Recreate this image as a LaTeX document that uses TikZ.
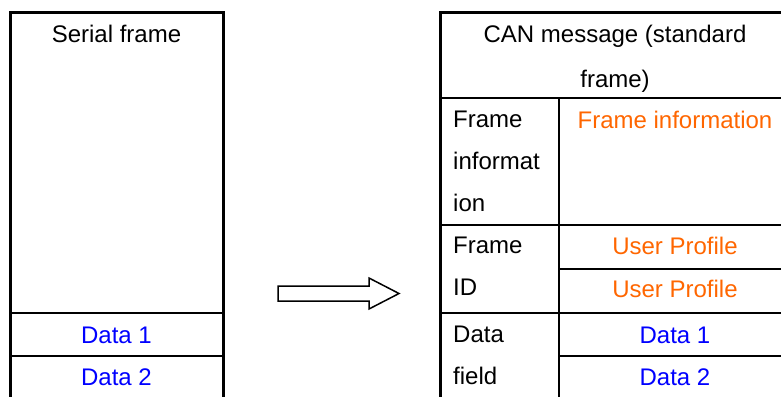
\documentclass[tikz,border=0pt]{standalone}
\usepackage{fontspec}
\setmainfont{Liberation Sans}
\usetikzlibrary{positioning}
\definecolor{profileorange}{RGB}{255,102,0}
\definecolor{datablue}{RGB}{0,0,255}

\begin{document}
\begin{tikzpicture}[x=1pt, y=-1pt, font=\fontsize{24}{42}\selectfont,
  frameline/.style={line width=3pt},
  cellline/.style={line width=1.5pt},
  txt/.style={anchor=base, inner sep=0pt},
  lines/.style={anchor=north west, inner sep=0pt, align=left}]
  \useasboundingbox (0,0) rectangle (781,396);
  % serial frame
  \draw[frameline] (10,400) -- (10,12.5) -- (223,12.5) -- (223,400);
  \draw[cellline] (10,313) -- (223,313);
  \draw[cellline] (10,356) -- (223,356);
  \node[txt] (serial) at (116.5,43) {Serial frame};
  \node[txt, text=datablue] (sdata1) at (116.5,343) {Data 1};
  \node[txt, text=datablue] (sdata2) at (116.5,385) {Data 2};
  % block arrow
  \draw[line width=1.5pt] (278,286) -- (369,286) -- (369,278) -- (399,293.5)
    -- (369,309) -- (369,301) -- (278,301) -- cycle;
  % CAN message
  \draw[frameline] (440.5,400) -- (440.5,12.5) -- (795,12.5);
  \draw[cellline] (440,98) -- (795,98);
  \draw[cellline] (559,98) -- (559,400);
  \draw[cellline] (440,225) -- (795,225);
  \draw[cellline] (559,269) -- (795,269);
  \draw[cellline] (440,313) -- (795,313);
  \draw[cellline] (559,356) -- (795,356);
  \node[txt] (can1) at (615,43) {CAN message (standard};
  \node[txt] (can2) at (615,87) {frame)};
  \node[lines] (finfo) at (453,111) {Frame\\informat\\ion};
  \node[lines] (fid) at (453,237) {Frame\\ID};
  \node[lines] (dfield) at (453,326) {Data\\field};
  \node[txt, text=profileorange] (finfoval) at (675,128) {Frame information};
  \node[txt, text=profileorange] (user1) at (675,254) {User Profile};
  \node[txt, text=profileorange] (user2) at (675,297) {User Profile};
  \node[txt, text=datablue] (cdata1) at (675,343) {Data 1};
  \node[txt, text=datablue] (cdata2) at (675,385) {Data 2};
\end{tikzpicture}
\end{document}
